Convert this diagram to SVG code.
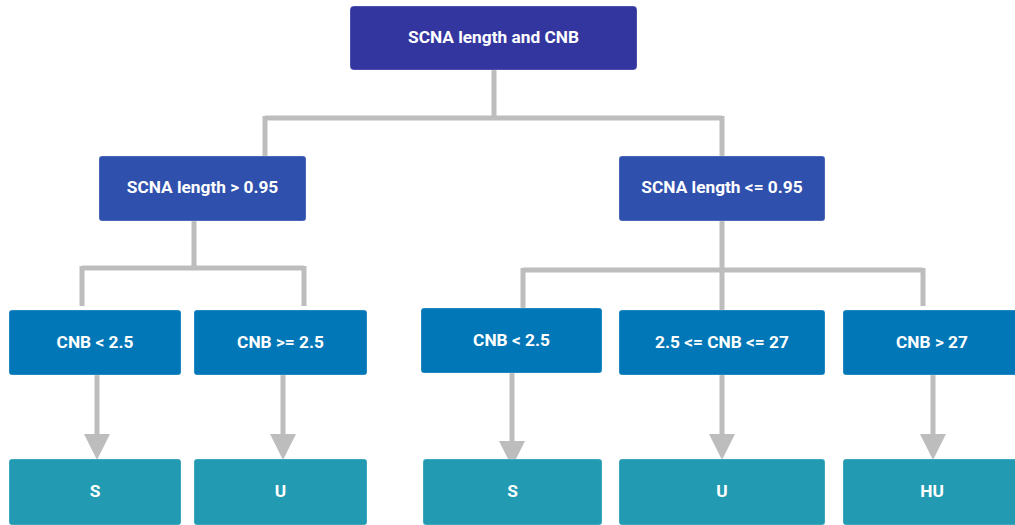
<svg xmlns="http://www.w3.org/2000/svg" width="1015" height="525" viewBox="0 0 1015 525">
<style>
.box{stroke:#ffffff;stroke-opacity:0.25;stroke-width:1}
.l0{fill:#3436a0}
.l1{fill:#2f50ad}
.l2{fill:#0277b8}
.l3{fill:#229bb2}
text{font-family:Roboto,"Liberation Sans",sans-serif;font-weight:700;font-size:17.3px;fill:#ffffff;text-anchor:middle}
.c{fill:none;stroke:#bdbdbd;stroke-width:5}
</style>
<defs>
<marker id="ah" markerUnits="userSpaceOnUse" markerWidth="26" markerHeight="26" refX="0" refY="13" orient="auto" viewBox="0 0 26 26">
<path d="M0,0 L26,13 L0,26 Z" fill="#bdbdbd"/>
</marker>
</defs>
<rect width="1015" height="525" fill="#ffffff"/>
<g id="connectors">
<path class="c" d="M494,70 V118 M265,118 H722 M265,116 V157 M722,116 V157"/>
<path class="c" d="M194,221 V268 M82,268 H304 M82,266 V306 M304,266 V306"/>
<path class="c" d="M722,221 V312 M523,270 H923 M523,268 V308 M923,268 V306"/>
<path class="c" d="M97,375 V434" marker-end="url(#ah)"/>
<path class="c" d="M283,375 V434" marker-end="url(#ah)"/>
<path class="c" d="M512,373 V441" marker-end="url(#ah)"/>
<path class="c" d="M722,375 V434" marker-end="url(#ah)"/>
<path class="c" d="M933,375 V434" marker-end="url(#ah)"/>
</g>
<g id="root"><rect class="box l0" x="350" y="6" width="287" height="64" rx="4"/><text x="493.5" y="43">SCNA length and CNB</text></g>
<g id="len-gt"><rect class="box l1" x="99" y="156" width="207" height="65" rx="3"/><text x="202.5" y="193">SCNA length &gt; 0.95</text></g>
<g id="len-le"><rect class="box l1" x="619" y="156" width="206" height="65" rx="3"/><text x="722" y="193">SCNA length &lt;= 0.95</text></g>
<g id="a-cnb-lt"><rect class="box l2" x="9" y="310" width="172" height="65" rx="3"/><text x="95" y="348">CNB &lt; 2.5</text></g>
<g id="a-cnb-ge"><rect class="box l2" x="194" y="310" width="173" height="65" rx="3"/><text x="280.5" y="348">CNB &gt;= 2.5</text></g>
<g id="b-cnb-lt"><rect class="box l2" x="421" y="308" width="181" height="65" rx="3"/><text x="511.5" y="346">CNB &lt; 2.5</text></g>
<g id="b-cnb-mid"><rect class="box l2" x="619" y="310" width="206" height="65" rx="3"/><text x="722" y="348">2.5 &lt;= CNB &lt;= 27</text></g>
<g id="b-cnb-gt"><rect class="box l2" x="843" y="310" width="206" height="65" rx="3"/><text x="932" y="348">CNB &gt; 27</text></g>
<g id="a-s"><rect class="box l3" x="9" y="459" width="172" height="66" rx="3"/><text x="95" y="497">S</text></g>
<g id="a-u"><rect class="box l3" x="194" y="459" width="173" height="66" rx="3"/><text x="280.5" y="497">U</text></g>
<g id="b-s"><rect class="box l3" x="423" y="459" width="179" height="66" rx="3"/><text x="512.5" y="497">S</text></g>
<g id="b-u"><rect class="box l3" x="619" y="459" width="206" height="66" rx="3"/><text x="722" y="497">U</text></g>
<g id="b-hu"><rect class="box l3" x="843" y="459" width="206" height="66" rx="3"/><text x="932" y="497">HU</text></g>
</svg>
